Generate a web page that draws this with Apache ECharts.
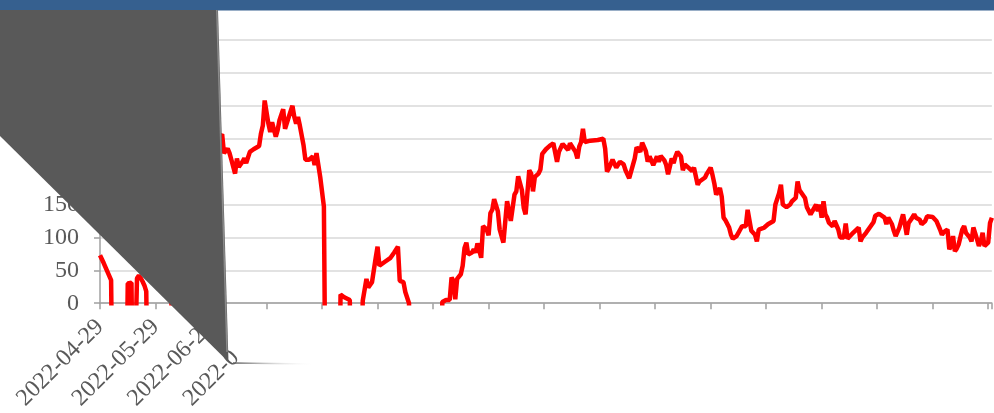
<!DOCTYPE html>
<html><head><meta charset="utf-8">
<script src="https://cdn.jsdelivr.net/npm/echarts@6/dist/echarts.min.js"></script>
<style>html,body{margin:0;padding:0;background:#fff}#c{width:994px;height:413px}</style>
</head><body><div id="c"></div>
<script>
// day offset from 2022-04-29
const days = [0,2,4,6,7,14,15,16,17,18,19,20,21,22,23,24,25,26,38,39,42,46,50,54,58,62,66,67,69,70,71,73,74,75,77,78,79,81,83,86,87,88,89,91,92,93,95,96,97,99,100,101,102,104,105,106,107,108,109,110,111,113,115,116,117,119,121,122,129,130,132,133,135,136,140,142,144,145,147,148,149,150,151,154,157,159,161,162,164,165,167,168,184,185,187,189,190,191,192,193,195,196,197,198,199,201,202,203,204,206,207,209,210,211,212,213,215,216,218,219,220,221,222,224,225,226,228,229,230,231,232,233,234,235,237,238,239,240,241,243,245,247,248,250,251,253,254,255,257,258,259,260,261,262,265,269,272,273,274,275,277,278,279,281,283,284,286,287,289,290,292,293,295,296,297,299,301,302,303,305,306,307,309,310,311,312,314,315,316,318,319,320,321,323,324,325,327,328,330,331,332,333,335,336,337,338,340,341,342,344,345,346,347,348,349,350,351,352,354,355,356,357,359,361,364,365,367,368,369,370,371,373,374,376,377,378,379,381,382,383,384,385,386,387,388,389,390,391,392,393,394,396,397,399,400,401,402,403,404,405,407,408,410,411,412,414,416,418,419,420,421,422,424,425,426,428,429,430,432,433,434,435,436,437,439,440,441,443,444,446,447,448,450,451,452,454,455,456,458,459,460,461,462,463,464,466,467,468,470,471,472,474,475,476,477,478,480,481,482];
const values = [73,61,48,35,-200,-200,30,33,31,-200,-200,38,42,38,33,27,18,-200,-200,120,165,190,205,230,215,240,257,228,235,228,218,197,220,207,215,220,213,230,234,239,258,270,308,273,260,275,253,263,278,295,265,263,283,300,283,273,283,270,273,240,218,218,223,210,228,192,147,-200,-200,13,9,7,5,-200,-200,4,37,24,32,35,69,86,57,63,69,77,86,34,32,17,0,-200,-200,2,5,5,39,34,6,37,44,57,84,92,74,77,82,77,91,69,117,112,103,137,142,158,140,112,92,94,155,152,125,165,170,193,172,145,135,134,202,197,170,192,197,203,227,230,234,239,243,215,230,242,243,233,243,240,230,220,238,245,265,245,247,248,250,235,200,205,218,220,206,215,211,202,190,200,220,237,230,244,231,215,223,210,223,215,224,217,210,196,220,213,223,230,223,202,211,206,206,201,206,180,185,183,191,197,206,195,182,165,175,162,130,126,115,104,98,102,107,112,117,120,117,142,140,110,104,94,112,110,115,120,125,150,167,180,150,150,146,150,155,160,185,172,175,160,146,149,135,140,145,150,140,150,130,155,135,130,122,117,125,112,100,98,100,121,98,97,107,110,115,94,100,107,115,123,133,132,136,138,130,120,130,120,110,102,115,125,135,120,104,122,130,135,130,127,120,125,132,130,131,133,125,112,104,108,112,82,87,102,79,83,89,112,117,107,100,94,115,97,87,94,107,87,92,122,130];
const xTickLabels = ['2022-04-29','2022-05-29','2022-06-28','2022-07-28'];
const yTicks = [0,50,100,150,200,250,300,350,400];

const FONT = '"Liberation Serif","Times New Roman",serif';
const chart = echarts.init(document.getElementById('c'));
const data = days.map((d,i)=>[d, values[i]]);
chart.setOption({
  animation:false,
  grid:{left:100, right:1, top:40, bottom:108},
  xAxis:{
    type:'value', min:0, max:482, interval:30,
    axisLine:{show:true, lineStyle:{color:'#a0a0a0', width:1.5}},
    axisTick:{show:true, length:6, lineStyle:{color:'#a0a0a0', width:1.5}},
    splitLine:{show:false},
    axisLabel:{
      rotate:45, margin:20, fontSize:24, fontFamily:FONT, color:'#595959',
      formatter:function(v){
        if (v % 30 !== 0) return '';
        const i = v/30;
        if (i < 3) return xTickLabels[i];
        if (i === 3) return '{v|' + xTickLabels[3].slice(0,6) + '}{h|' + xTickLabels[3].slice(6) + '}';
        return '';
      },
      rich:{
        v:{fontSize:24, fontFamily:FONT, color:'#595959'},
        h:{fontSize:24, fontFamily:FONT, color:'rgba(255,255,255,0)'}
      }
    }
  },
  yAxis:{
    type:'value', min:yTicks[0], max:yTicks[yTicks.length-1], interval:50,
    axisLine:{show:true, lineStyle:{color:'#a0a0a0', width:1.5}},
    axisTick:{show:true, length:6, lineStyle:{color:'#a0a0a0', width:1.5}},
    splitLine:{show:true, lineStyle:{color:'#d9d9d9', width:1.5}},
    axisLabel:{margin:21, fontSize:24, fontFamily:FONT, color:'#595959'}
  },
  series:[{
    type:'line', data:data, showSymbol:false, symbol:'none',
    lineStyle:{color:'#ff0000', width:4.5}, clip:true
  }],
  graphic:{elements:[
    {type:'rect', z:100, shape:{x:0,y:0,width:994,height:10.5}, style:{fill:'#36608f'}},
    {type:'polygon', z:100, shape:{points:[[0,10],[218,10],[228.5,362],[0,136]]}, style:{fill:'#595959'}},
    {type:'line', z:101, shape:{x1:216.8,y1:10,x2:227,y2:352}, style:{stroke:'rgba(200,200,200,0.45)', lineWidth:1.5}},
    {type:'line', z:101, shape:{x1:233,y1:363,x2:312,y2:364},
      style:{lineWidth:1.5, stroke:new echarts.graphic.LinearGradient(0,0,1,0,[{offset:0,color:'#555'},{offset:1,color:'rgba(255,255,255,0)'}])}}
  ]}
});
</script></body></html>
